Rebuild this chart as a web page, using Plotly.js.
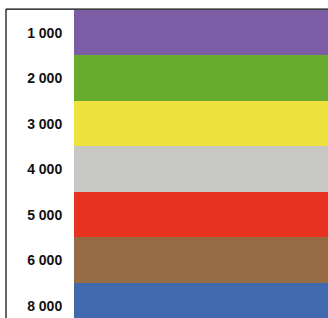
<!DOCTYPE html>
<html><head><meta charset="utf-8">
<script src="https://cdn.plot.ly/plotly-3.0.1.min.js"></script>
<style>html,body{margin:0;padding:0;background:#fff}#c{width:328px;height:318px}</style>
</head><body><div id="c"></div>
<script>
const categories = ["1 000","2 000","3 000","4 000","5 000","6 000","8 000"];
const values = [1,1,1,1,1,1,1];
const colors = ["#7B5DA6","#67AB2C","#EEE33E","#C7C7C3","#E6321F","#966A43","#4169AD"];

const trace = {
  type: 'bar', orientation: 'h',
  y: categories, x: values,
  marker: {color: colors, line: {width: 0}},
  hoverinfo: 'none'
};
const layout = {
  width: 328, height: 318,
  margin: {l: 74, r: 0, t: 10, b: 0},
  paper_bgcolor: '#fff', plot_bgcolor: '#fff',
  bargap: 0, showlegend: false,
  xaxis: {range: [0, 1], visible: false, fixedrange: true},
  yaxis: {
    type: 'category', autorange: false, range: [6.27, -0.5],
    showgrid: false, zeroline: false, showline: false,
    ticks: 'outside', ticklen: 8, tickcolor: 'rgba(0,0,0,0)',
    tickfont: {family: 'Liberation Sans, Arial, sans-serif', size: 14, color: '#111', weight: 'bold'},
    fixedrange: true
  },
  shapes: [
    {type: 'line', xref: 'paper', yref: 'paper', x0: -68/254, x1: 1, y0: 1.003, y1: 1.003, line: {color: '#000', width: 1.2}},
    {type: 'line', xref: 'paper', yref: 'paper', x0: -68/254, x1: -68/254, y0: 1.003, y1: -0.05, line: {color: '#000', width: 1.2}}
  ]
};
Plotly.newPlot('c', [trace], layout, {displayModeBar: false, staticPlot: true});
</script></body></html>
